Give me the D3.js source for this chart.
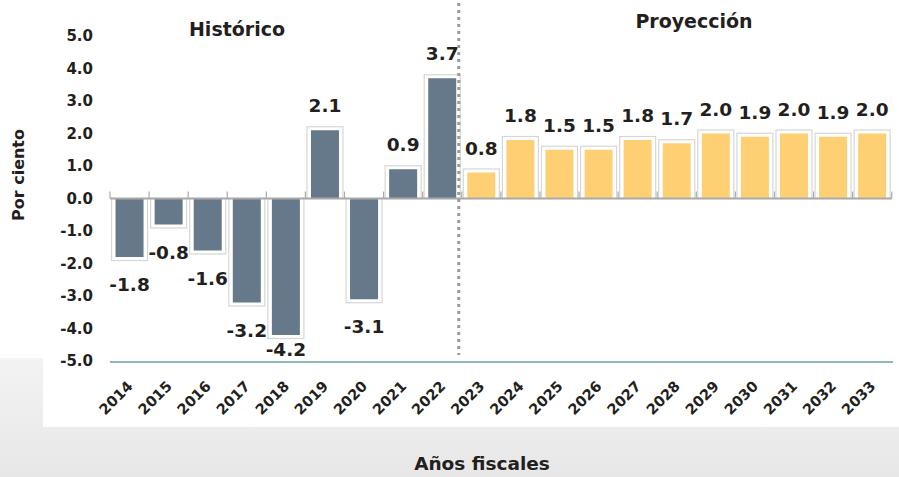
<!DOCTYPE html>
<html><head><meta charset="utf-8">
<script src="https://cdn.jsdelivr.net/npm/d3@7"></script>
<style>
html,body{margin:0;padding:0;background:#fff;}
text{font-family:"DejaVu Sans",sans-serif;font-weight:bold;fill:#231f20;}
</style></head>
<body><svg id="c" width="899" height="477"></svg>
<script>
const years = ["2014","2015","2016","2017","2018","2019","2020","2021","2022","2023","2024","2025","2026","2027","2028","2029","2030","2031","2032","2033"];
const values = [-1.8,-0.8,-1.6,-3.2,-4.2,2.1,-3.1,0.9,3.7,0.8,1.8,1.5,1.5,1.8,1.7,2.0,1.9,2.0,1.9,2.0];
const firstProjection = "2023";
const yTicks = [5,4,3,2,1,0,-1,-2,-3,-4,-5];
const sectionTitles = ["Histórico","Proyección"];
const yTitle = "Por ciento";
const xTitle = "Años fiscales";

const svg = d3.select("#c");
const W = 899, H = 477;

// background panels
const defs = svg.append("defs");
const g1 = defs.append("linearGradient").attr("id","bg").attr("x1",0).attr("y1",0).attr("x2",0).attr("y2",1);
g1.append("stop").attr("offset","0%").attr("stop-color","#f3f3f3");
g1.append("stop").attr("offset","100%").attr("stop-color","#e7e7e7");
svg.append("rect").attr("x",0).attr("y",358).attr("width",W).attr("height",H-358).attr("fill","url(#bg)");
svg.append("rect").attr("x",43).attr("y",358).attr("width",W-43).attr("height",427-358).attr("fill","#fff");

const x = d3.scaleBand().domain(years).range([110, 891.7]).padding(0);
const y = d3.scaleLinear().domain([-5,5]).range([361, 36]);
const bw = 28, pad = 4, capPad = 3.5;
const isProj = d => years.indexOf(d) >= years.indexOf(firstProjection);
const data = years.map((yr,i)=>({yr, v: values[i]}));

// frames
svg.append("g").selectAll("rect").data(data).join("rect")
  .attr("x", d => x(d.yr) + x.bandwidth()/2 - bw/2 - pad)
  .attr("width", bw + 2*pad)
  .attr("y", d => d.v >= 0 ? y(d.v) - capPad : y(0))
  .attr("height", d => Math.abs(y(d.v) - y(0)) + capPad)
  .attr("fill","#fff").attr("stroke","#d6d6d6").attr("stroke-width",1.2);

// bars
svg.append("g").selectAll("rect").data(data).join("rect")
  .attr("x", d => x(d.yr) + x.bandwidth()/2 - bw/2)
  .attr("width", bw)
  .attr("y", d => Math.min(y(d.v), y(0)))
  .attr("height", d => Math.abs(y(d.v) - y(0)))
  .attr("fill", d => isProj(d.yr) ? "#ffd073" : "#66798a");

// zero line and ticks
svg.append("line").attr("x1",110).attr("x2",891.7).attr("y1",y(0)).attr("y2",y(0))
  .attr("stroke","#a9a9a9").attr("stroke-width",2);
const bounds = years.map(d=>x(d)).concat([x.range()[1]]);
svg.append("g").selectAll("line").data(bounds).join("line")
  .attr("x1",d=>d).attr("x2",d=>d).attr("y1",y(0)-7).attr("y2",y(0))
  .attr("stroke","#a9a9a9").attr("stroke-width",1.2);

// bottom axis line
svg.append("line").attr("x1",110).attr("x2",893).attr("y1",y(-5)+1).attr("y2",y(-5)+1)
  .attr("stroke","#8fb9b8").attr("stroke-width",2);

// divider
const divX = x(firstProjection) - 3;
svg.append("line").attr("x1",divX).attr("x2",divX).attr("y1",3).attr("y2",355)
  .attr("stroke","#9a9a9a").attr("stroke-width",3).attr("stroke-dasharray","3,4");

// y tick labels
svg.append("g").selectAll("text").data(yTicks).join("text")
  .attr("x",93).attr("y",d=>y(d)).attr("dy","0.36em").attr("text-anchor","end")
  .attr("font-size",15).text(d=>d.toFixed(1));

// value labels
svg.append("g").selectAll("text").data(data).join("text")
  .attr("x", d => x(d.yr) + x.bandwidth()/2)
  .attr("y", d => d.v >= 0 ? y(d.v) - 24.5 : Math.min(y(d.v) + 27.5, y(-5) - 12))
  .attr("dy","0.36em").attr("text-anchor","middle").attr("font-size",18.5)
  .text(d => d.v.toFixed(1));

// x tick labels
svg.append("g").selectAll("text").data(years).join("text")
  .attr("transform", d => `translate(${x(d)+x.bandwidth()/2-3},${380}) rotate(-45)`)
  .attr("text-anchor","end").attr("dy","0.7em").attr("font-size",14.5).text(d=>d);

// section titles
svg.append("text").attr("x",237).attr("y",29).attr("dy","0.36em").attr("text-anchor","middle")
  .attr("font-size",19).text(sectionTitles[0]);
svg.append("text").attr("x",694).attr("y",21).attr("dy","0.36em").attr("text-anchor","middle")
  .attr("font-size",19).text(sectionTitles[1]);

// axis titles
svg.append("text").attr("transform","translate(18,175) rotate(-90)").attr("dy","0.36em")
  .attr("text-anchor","middle").attr("font-size",16).text(yTitle);
svg.append("text").attr("x",482).attr("y",463).attr("dy","0.36em").attr("text-anchor","middle")
  .attr("font-size",18.5).text(xTitle);
</script></body></html>
